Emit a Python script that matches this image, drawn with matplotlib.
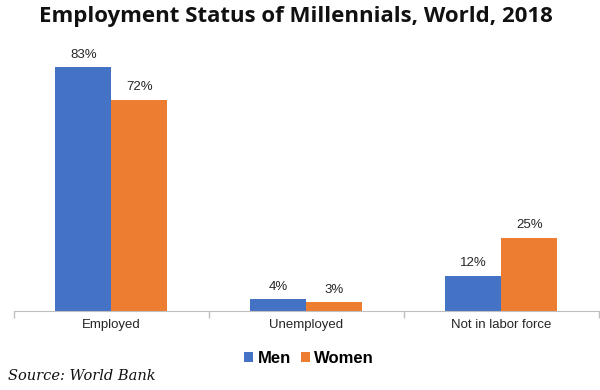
import matplotlib

matplotlib.use("Agg")
import matplotlib.pyplot as plt
import numpy as np

categories = ["Employed", "Unemployed", "Not in labor force"]
men = [83, 4, 12]
women = [72, 3, 25]
series_names = ["Men", "Women"]

colors = {"men": "#4472C4", "women": "#ED7D31", "axis": "#BFBFBF", "text": "#262626"}

fig = plt.figure(figsize=(6.0, 3.9), dpi=100)
ax = fig.add_axes([0.023, 0.2026, 0.975, 0.677])

x = np.arange(len(categories))
width = 0.287
b1 = ax.bar(x - width / 2, men, width, color=colors["men"], label=series_names[0])
b2 = ax.bar(x + width / 2, women, width, color=colors["women"], label=series_names[1])

for bars, vals in ((b1, men), (b2, women)):
    for bar, v in zip(bars, vals):
        ax.text(bar.get_x() + bar.get_width() / 2, v + 2.2, f"{v}%",
                ha="center", va="bottom", fontsize=9.5, family="Liberation Sans", color=colors["text"])

ax.set_xlim(-0.5, 2.5)
ax.set_ylim(0, 90)
ax.set_yticks([])
ax.set_xticks(x)
ax.set_xticklabels(categories, fontsize=9.5, family="Liberation Sans", color=colors["text"])
ax.tick_params(axis="x", which="major", length=0, pad=6)
ax.set_xticks(np.arange(-0.5, 2.6, 1.0), minor=True)
ax.tick_params(axis="x", which="minor", length=5, color=colors["axis"], width=1)
for side in ("top", "right", "left"):
    ax.spines[side].set_visible(False)
ax.spines["bottom"].set_color(colors["axis"])

fig.text(0.493, 0.958, "Employment Status of Millennials, World, 2018", ha="center", va="center",
         fontsize=16, fontweight="bold", family="Open Sans", color="#111111")

fig.legend(handles=[b1, b2], labels=series_names, loc="center", bbox_to_anchor=(0.515, 0.082),
           ncol=2, frameon=False, prop={"family": "Liberation Sans", "weight": "bold", "size": 12},
           handlelength=0.55, handleheight=0.55, handletextpad=0.25, columnspacing=0.6)

fig.text(0.014, 0.036, "Source: World Bank", ha="left", va="center", fontsize=10.5,
         style="italic", family="DejaVu Serif", color="#111111")

fig.savefig("out.png")
